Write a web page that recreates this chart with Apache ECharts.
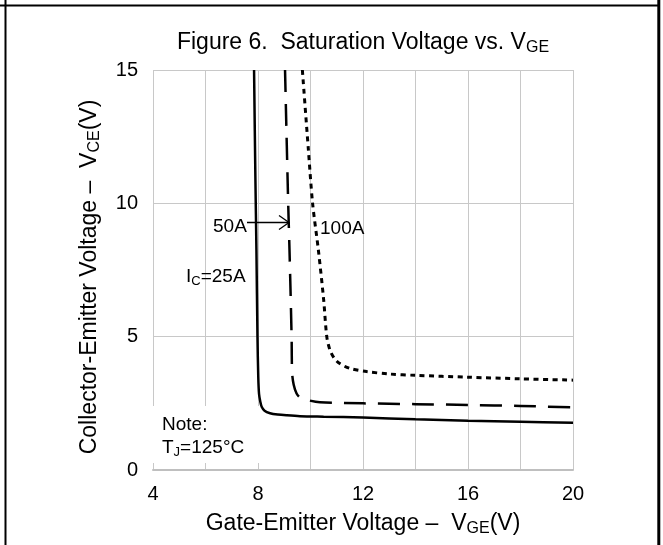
<!DOCTYPE html>
<html><head><meta charset="utf-8">
<script src="https://cdn.jsdelivr.net/npm/echarts@6/dist/echarts.min.js"></script>
<style>html,body{margin:0;padding:0;background:#fff}#c{width:663px;height:545px}</style>
</head><body><div id="c"></div>
<script>
// ---- data ----
const xTickLabels = [4, 8, 12, 16, 20];
const yTickLabels = [0, 5, 10, 15];

// IC = 25A (solid)
const vge25 = [7.85, 7.9, 7.94, 7.98, 8.01, 8.04, 8.09, 8.14, 8.25, 8.46, 8.75, 9.1, 9.6, 10.5, 12, 14, 16, 18, 20];
const vce25 = [15, 11, 8.25, 5, 3.5, 2.85, 2.55, 2.37, 2.22, 2.13, 2.08, 2.05, 2.02, 2.0, 1.97, 1.9, 1.85, 1.81, 1.77];
// IC = 50A (dashed)
const vge50 = [9.03, 9.15, 9.2, 9.28, 9.3, 9.36, 9.47, 9.6, 9.86, 10.36, 12, 14, 16, 18, 20];
const vce50 = [15, 10, 8.25, 5, 3.64, 3.2, 2.87, 2.72, 2.63, 2.54, 2.5, 2.47, 2.44, 2.4, 2.35];
// IC = 100A (dotted)
const vge100 = [9.69, 9.92, 10.08, 10.3, 10.5, 10.62, 10.74, 10.9, 11.1, 11.5, 12.14, 13, 14, 16, 18, 20];
const vce100 = [15, 12, 10, 8.25, 6.4, 5, 4.5, 4.2, 4.0, 3.81, 3.69, 3.6, 3.55, 3.48, 3.42, 3.37];

const FONT = "'Liberation Sans', Arial, sans-serif";
const zip = (a, b) => a.map((v, i) => [v, b[i]]);

const chart = echarts.init(document.getElementById('c'), null, {renderer: 'canvas'});
const subStyle = {fontFamily: FONT, fontSize: 16, color: '#000', verticalAlign: 'bottom', lineHeight: 16};

const lineSeries = (name, xs, ys, type, width) => ({
  name, type: 'line', data: zip(xs, ys), showSymbol: false, smooth: 0.3,
  lineStyle: {color: '#000', width: width, type: type, cap: 'butt'},
  animation: false, z: 2
});

chart.setOption({
  animation: false,
  backgroundColor: '#fff',
  grid: {left: 153, right: 90, top: 70, bottom: 75, containLabel: false},
  xAxis: {
    type: 'value', min: 4, max: 20, interval: 2,
    axisLine: {show: true, lineStyle: {color: '#bfbfbf', width: 2}},
    axisTick: {show: false},
    splitLine: {show: true, lineStyle: {color: '#c8c8c8', width: 1}},
    axisLabel: {
      margin: 14, fontFamily: FONT, fontSize: 20, color: '#000',
      formatter: v => xTickLabels.includes(v) ? String(v) : ''
    },
    name: 'Gate-Emitter Voltage –  V{s|GE}(V)',
    nameLocation: 'middle', nameGap: 41,
    nameTextStyle: {fontFamily: FONT, fontSize: 23, color: '#000', lineHeight: 26, rich: {s: subStyle}}
  },
  yAxis: {
    type: 'value', min: 0, max: 15, interval: 5,
    axisLine: {show: false},
    axisTick: {show: false},
    splitLine: {show: true, lineStyle: {color: '#c8c8c8', width: 1}},
    axisLabel: {
      margin: 15, fontFamily: FONT, fontSize: 20, color: '#000',
      formatter: v => yTickLabels.includes(v) ? String(v) : ''
    },
    name: 'Collector-Emitter Voltage –  V{s|CE}(V)',
    nameLocation: 'middle', nameGap: 50,
    nameTextStyle: {fontFamily: FONT, fontSize: 23, color: '#000', lineHeight: 26, padding: [0, 14, 0, 0], rich: {s: subStyle}}
  },
  series: [
    lineSeries('25A', vge25, vce25, 'solid', 2.5),
    lineSeries('50A', vge50, vce50, [22, 12], 2.5),
    lineSeries('100A', vge100, vce100, [5, 4.5], 3)
  ],
  graphic: {elements: [
    // frame
    {type: 'line', shape: {x1: 5.5, y1: 0, x2: 5.5, y2: 545}, style: {stroke: '#000', lineWidth: 2}, z: 10},
    {type: 'line', shape: {x1: 0, y1: 5.5, x2: 659, y2: 5.5}, style: {stroke: '#000', lineWidth: 2}, z: 10},
    {type: 'line', shape: {x1: 658.8, y1: 0, x2: 658.8, y2: 545}, style: {stroke: '#000', lineWidth: 3}, z: 10},
    // title
    {type: 'text', x: 363, y: 43, z: 10, style: {
      text: '{m|Figure 6.  Saturation Voltage vs. V}{s|GE}', align: 'center', verticalAlign: 'middle',
      rich: {m: {fontFamily: FONT, fontSize: 23, color: '#000', lineHeight: 26}, s: subStyle}
    }},
    // note box
    {type: 'rect', shape: {x: 153, y: 406, width: 113, height: 57}, style: {fill: '#fff'}, z: 1},
    {type: 'text', x: 162, y: 425, z: 10, style: {text: 'Note:', fontFamily: FONT, fontSize: 19, fill: '#000', verticalAlign: 'middle'}},
    {type: 'text', x: 162, y: 448, z: 10, style: {
      text: '{m|T}{s|J}{m|=125°C}', verticalAlign: 'middle',
      rich: {m: {fontFamily: FONT, fontSize: 19, color: '#000', lineHeight: 22}, s: {fontFamily: FONT, fontSize: 13, color: '#000', verticalAlign: 'bottom', lineHeight: 13}}
    }},
    // annotations
    {type: 'text', x: 186, y: 277, z: 10, style: {
      text: '{m|I}{s|C}{m|=25A}', verticalAlign: 'middle',
      rich: {m: {fontFamily: FONT, fontSize: 19, color: '#000', lineHeight: 22}, s: {fontFamily: FONT, fontSize: 13, color: '#000', verticalAlign: 'bottom', lineHeight: 13}}
    }},
    {type: 'text', x: 213, y: 226.5, z: 10, style: {text: '50A', fontFamily: FONT, fontSize: 19, fill: '#000', verticalAlign: 'middle'}},
    {type: 'line', shape: {x1: 247, y1: 222.5, x2: 289, y2: 222.5}, style: {stroke: '#000', lineWidth: 1.3}, z: 10},
    {type: 'polyline', shape: {points: [[279, 215.5], [289, 222.5], [279, 229.5]]}, style: {stroke: '#000', lineWidth: 1.3, fill: null}, z: 10},
    {type: 'text', x: 320, y: 228.5, z: 10, style: {text: '100A', fontFamily: FONT, fontSize: 19, fill: '#000', verticalAlign: 'middle'}}
  ]}
});
</script></body></html>
